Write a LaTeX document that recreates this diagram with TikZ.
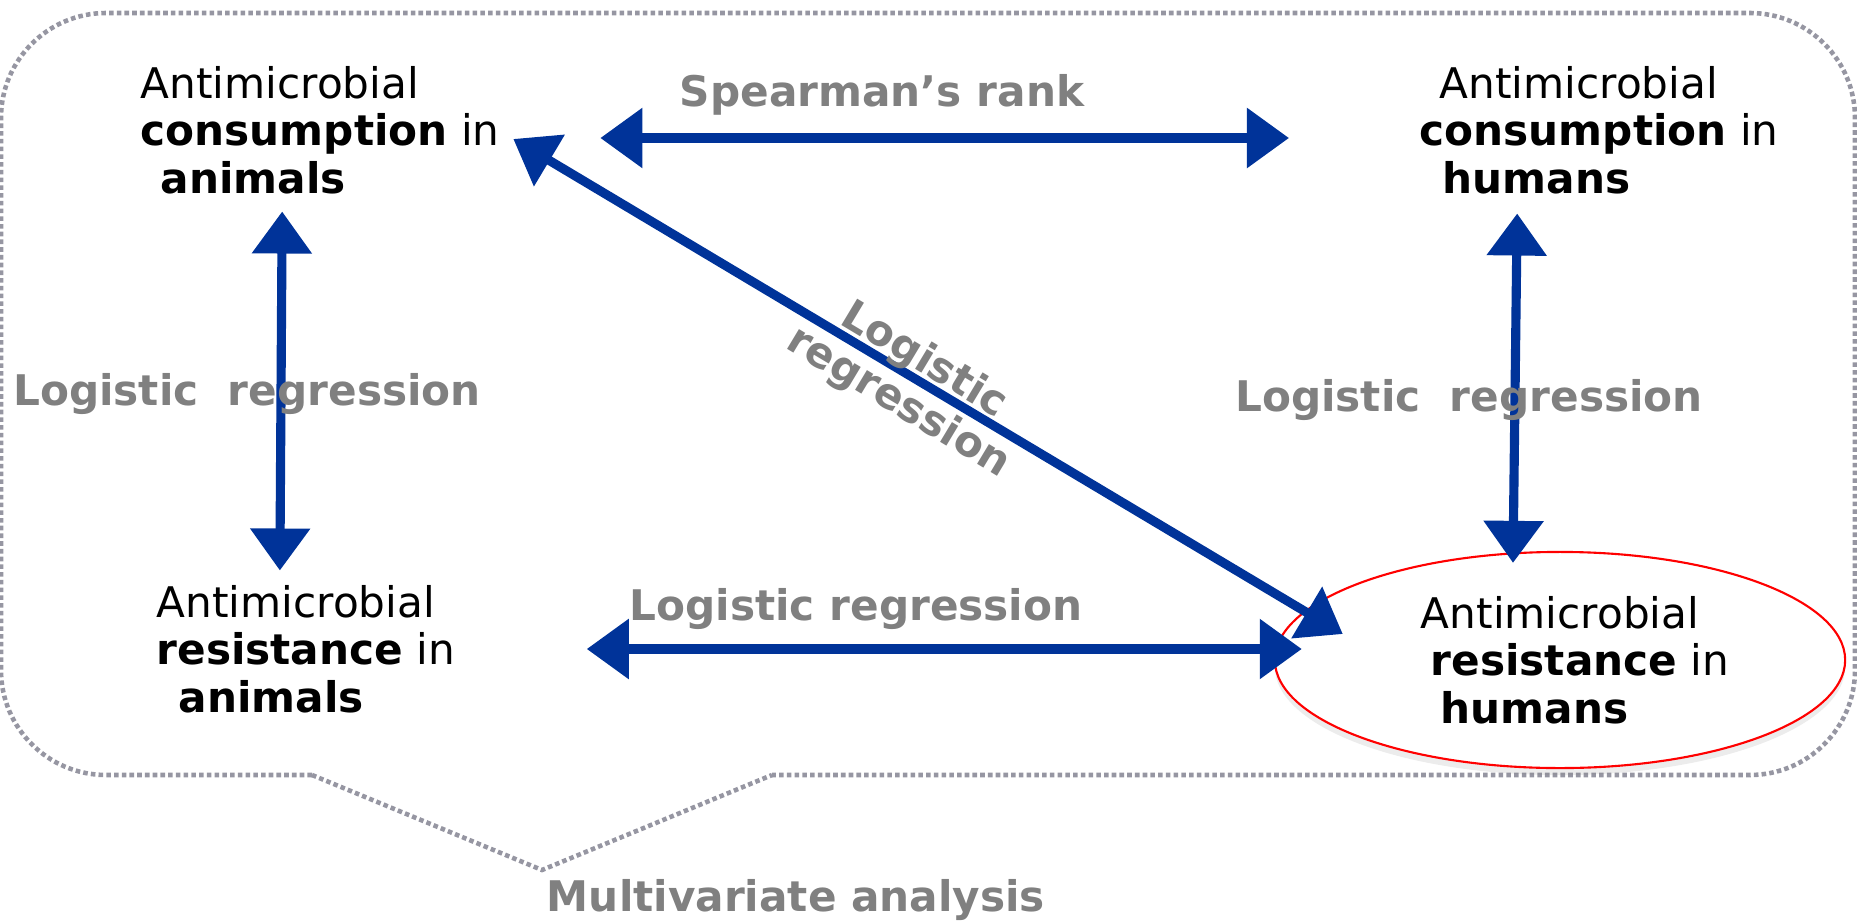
\documentclass[tikz,border=0pt]{standalone}
\usepackage{fontspec}
\setmainfont{DejaVu Sans}
\usepackage{tikz}
\usetikzlibrary{arrows.meta, shapes.geometric, shadows}
\usepackage{xcolor}
\definecolor{arrowblue}{RGB}{0,51,153}
\definecolor{labelgray}{RGB}{128,128,128}
\definecolor{dotgray}{RGB}{150,150,162}

\begin{document}
\begin{tikzpicture}[x=0.01cm, y=-0.01cm,
  box/.style={align=left, inner sep=0pt, anchor=west, font=\fontsize{12}{13.5}\selectfont},
  method/.style={text=labelgray, font=\fontsize{12}{14}\selectfont\bfseries, inner sep=0pt, align=center},
  biarrow/.style={arrowblue, line width=2.6pt, {Triangle[width=0.58cm,length=0.42cm]}-{Triangle[width=0.58cm,length=0.42cm]}},
  callout/.style={dotgray, line width=1.3pt, dash pattern=on 1.3pt off 0.9pt}]

\useasboundingbox (0,0) rectangle (1857,924);

% -------------------------
% Multivariate callout
% -------------------------
\draw[callout, rounded corners=1.05cm] (312,775) -- (1,775) -- (1,13) -- (1855,13) -- (1855,775) -- (772,775);
\draw[callout] (312,775) -- (542,870) -- (772,775);

\node[method] (multi) at (796,900) {Multivariate analysis};

% -------------------------
% Consumption and resistance
% -------------------------
\node[box] (CA) at (140,130) {Antimicrobial\\\textbf{consumption} in\\\hspace*{0.2cm}\textbf{animals}};
\node[box] (CH) at (1419,130) {\hspace*{0.2cm}Antimicrobial\\\textbf{consumption} in\\\hspace*{0.23cm}\textbf{humans}};
\node[box] (RA) at (156,649) {Antimicrobial\\\textbf{resistance} in\\\hspace*{0.22cm}\textbf{animals}};

\node[box, anchor=center, ellipse, draw=red, line width=0.6pt, fill=white,
      minimum width=5.7cm, minimum height=2.16cm,
      drop shadow={opacity=0.15, shadow xshift=0pt, shadow yshift=-2pt}]
      (RH) at (1560,660) {\hspace*{0.3cm}Antimicrobial\\\hspace*{0.4cm}\textbf{resistance} in\\\hspace*{0.5cm}\textbf{humans}};

% -------------------------
% Arrows between them
% -------------------------
\draw[biarrow] ([shift={(100,8)}]CA.east) -- ([shift={(-130,8)}]CH.west);
\draw[biarrow] ([shift={(13,9)}]CA.east) -- ([shift={(69,-26)}]RH.west);
\draw[biarrow] ([shift={(-38,17)}]CA.south) -- ([shift={(-26,-14)}]RA.north);
\draw[biarrow] ([shift={(-82,19)}]CH.south) -- ([shift={(-47,12)}]RH.north);
\draw[biarrow] ([shift={(131,0)}]RA.east) -- ([shift={(28,-11)}]RH.west);

% -------------------------
% Method labels
% -------------------------
\node[method] (spearman) at (882,95) {Spearman’s rank};
\node[method] (logLeft) at (247,394) {Logistic\ \ regression};
\node[method] (logRight) at (1469,400) {Logistic\ \ regression};
\node[method] (logBottom) at (856,609) {Logistic regression};
\node[method, rotate=-31] (logDiag) at (911,382) {Logistic\\regression};

\end{tikzpicture}
\end{document}
